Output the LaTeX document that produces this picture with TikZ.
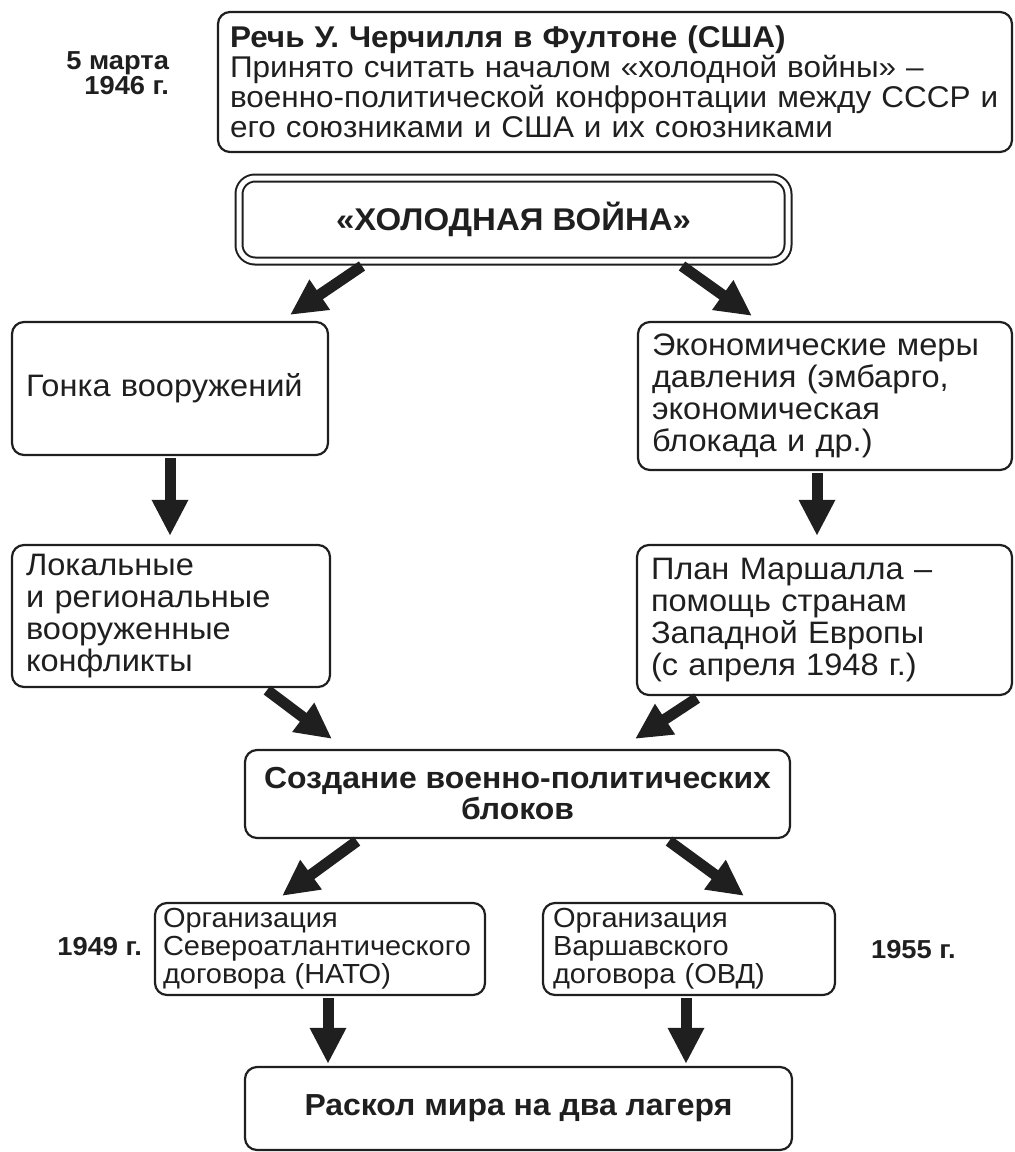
\documentclass[tikz,border=0pt]{standalone}
\usepackage{fontspec}
\setmainfont[FakeStretch=1.05]{Liberation Sans}
\usetikzlibrary{arrows.meta}
\definecolor{ink}{gray}{0.12}

\begin{document}
\begin{tikzpicture}[
    x=0.5pt, y=-0.5pt,
    color=ink, text=ink,
    font=\fontsize{15.5pt}{16pt}\selectfont,
    box/.style={draw, line width=1.1pt, rounded corners=6pt, align=left,
        inner xsep=7pt, inner ysep=0pt},
    bigarrow/.style={line width=5.5pt, -{Triangle[length=18pt,width=17pt]}},
    small/.style={font=\fontsize{13.8pt}{14pt}\selectfont},
    headline/.style={font=\bfseries\fontsize{15.2pt}{15.5pt}\selectfont},
    yearlabel/.style={font=\bfseries\fontsize{13pt}{12.5pt}\selectfont}
]
\useasboundingbox (0,0) rectangle (1014,1152);

% --- OBEN: Rede ---
\node[box, minimum width=397pt, minimum height=70pt, text width=385pt, inner xsep=6pt,
      font=\fontsize{15pt}{15pt}\selectfont]
  (speech) at (615,82)
  {\textbf{Речь У. Черчилля в Фултоне (США)}\\
   Принято считать началом «холодной войны» –\\
   военно-политической конфронтации между СССР и\\
   его союзниками и США и их союзниками};
\node[anchor=east, align=right, yearlabel] (date) at (176,73) {5 марта\\1946 г.};

% --- HAUPTBEGRIFF ---
\node[draw, double, double distance=2.5pt, line width=1pt, rounded corners=8pt,
      minimum width=274.5pt, minimum height=41.5pt,
      font=\bfseries\fontsize{15.7pt}{16pt}\selectfont]
  (war) at (513.5,219.5) {«ХОЛОДНАЯ ВОЙНА»};

% --- ZWEITE EBENE ---
\node[box, minimum width=158pt, minimum height=66.5pt, text width=144pt] (arms) at (170,388.5)
  {Гонка вооружений};
\node[box, minimum width=187pt, minimum height=74pt, text width=173pt] (econ) at (825,396)
  {Экономические меры\\давления (эмбарго,\\экономическая\\блокада и др.)};

% --- DRITTE EBENE ---
\node[box, minimum width=159pt, minimum height=71pt, text width=145pt] (local) at (171,616)
  {Локальные\\и региональные\\вооруженные\\конфликты};
\node[box, minimum width=187.5pt, minimum height=75pt, text width=173.5pt] (marshall) at (824.5,620)
  {План Маршалла –\\помощь странам\\Западной Европы\\(с апреля 1948 г.)};

% --- BLOECKE ---
\node[box, align=center, minimum width=272.5pt, minimum height=44pt, headline] (blocs) at (517.5,794)
  {Создание военно-политических\\блоков};

\node[box, small, minimum width=165pt, minimum height=46pt, text width=157pt, inner xsep=4pt]
  (nato) at (320,949)
  {Организация\\Североатлантического\\договора (НАТО)};
\node[box, small, minimum width=146pt, minimum height=46pt, text width=136pt, inner xsep=5pt]
  (ovd) at (689,949)
  {Организация\\Варшавского\\договора (ОВД)};
\node[anchor=east, yearlabel] (y1949) at (149,947) {1949 г.};
\node[anchor=west, yearlabel] (y1955) at (864,950) {1955 г.};

% --- ERGEBNIS ---
\node[box, align=center, minimum width=273.5pt, minimum height=41.5pt, headline] (split) at (518.5,1108.5)
  {Раскол мира на два лагеря};

% --- PFEILE ---
\draw[bigarrow] ([xshift=-75.75pt,yshift=-2pt]war.south) -- ([xshift=60pt,yshift=3pt]arms.north);
\draw[bigarrow] ([xshift=84.25pt,yshift=-2pt]war.south) -- ([xshift=-36.5pt,yshift=2.5pt]econ.north);
\draw[bigarrow] ([yshift=-1pt]arms.south) -- ([xshift=-0.5pt,yshift=4pt]local.north);
\draw[bigarrow] ([xshift=-4pt,yshift=-1pt]econ.south) -- ([xshift=-3.75pt,yshift=4pt]marshall.north);
\draw[bigarrow] ([xshift=48pt,yshift=-1pt]local.south) -- ([xshift=-92.75pt,yshift=5pt]blocs.north);
\draw[bigarrow] ([xshift=-63.75pt,yshift=-1pt]marshall.south) -- ([xshift=58.75pt,yshift=5pt]blocs.north);
\draw[bigarrow] ([xshift=-80.25pt,yshift=-1pt]blocs.south) -- ([xshift=-19pt,yshift=3pt]nato.north);
\draw[bigarrow] ([xshift=75.75pt,yshift=-1pt]blocs.south) -- ([xshift=27.5pt,yshift=3pt]ovd.north);
\draw[bigarrow] ([xshift=4pt,yshift=-1pt]nato.south) -- ([xshift=-95.25pt,yshift=1pt]split.north);
\draw[bigarrow] ([xshift=-1.5pt,yshift=-1pt]ovd.south) -- ([xshift=83.75pt,yshift=1pt]split.north);

\end{tikzpicture}
\end{document}
